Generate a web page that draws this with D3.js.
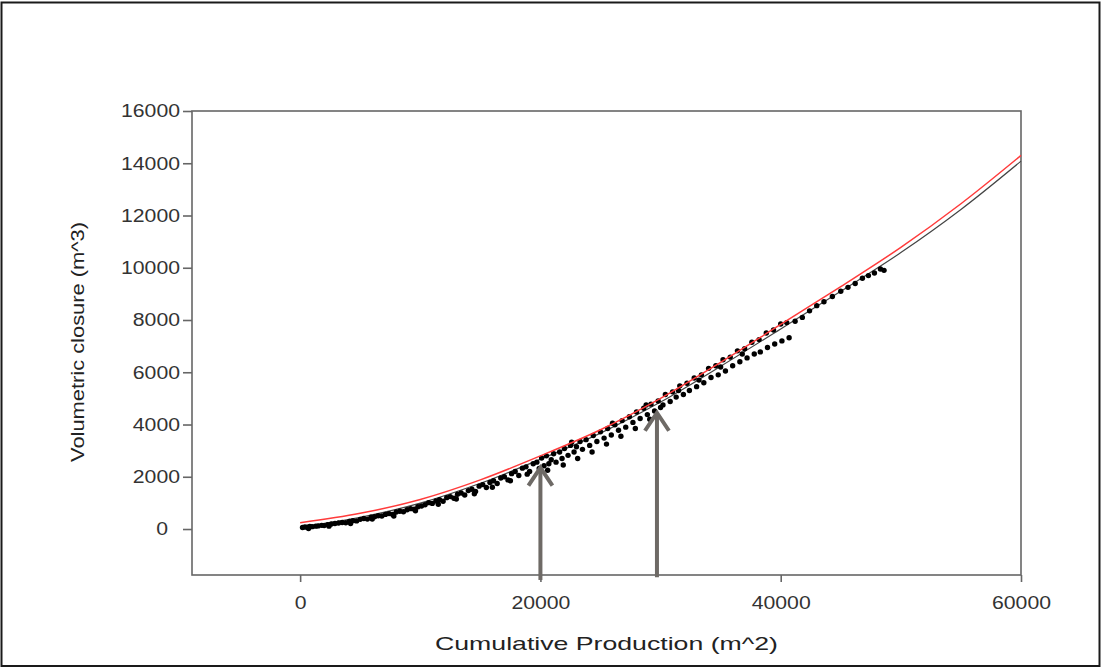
<!DOCTYPE html>
<html>
<head>
<meta charset="utf-8">
<script src="https://cdn.jsdelivr.net/npm/d3@7/dist/d3.min.js"></script>
<style>
  html, body { margin: 0; padding: 0; background: #fff; }
  svg { display: block; }
</style>
</head>
<body>
<svg id="chart" width="1102" height="668"></svg>
<script>
// ---------- data ----------
const xTicks = [0, 20000, 40000, 60000];
const yTicks = [0, 2000, 4000, 6000, 8000, 10000, 12000, 14000, 16000];

// fitted curve (red)
const redX = [0, 5000, 10000, 15000, 20000, 25000, 30000, 35000, 40000, 45000, 50000, 55000, 60000];
const redY = [240, 600, 1130, 1880, 2800, 3800, 5000, 6380, 7830, 9280, 10780, 12450, 14300];

// second fitted curve (dark grey)
const blackX = [0, 5000, 10000, 15000, 20000, 25000, 30000, 35000, 40000, 45000, 50000, 55000, 60000];
const blackY = [80, 450, 990, 1750, 2670, 3670, 4860, 6230, 7660, 9100, 10580, 12230, 14080];

// measured points
const points = [
  [200,60],[400,80],[600,70],[800,100],[1000,90],[1300,110],[1500,120],[1800,140],[2000,130],
  [2300,170],[2600,190],[2900,210],[3200,230],[3500,250],[3800,240],[4100,290],[4400,320],
  [4700,310],[5000,370],[5300,400],[5600,380],[5900,450],[6200,470],[6500,510],[6800,500],
  [7100,560],[7400,590],[7700,560],[8000,650],[8300,680],[8600,660],[8900,740],[9200,780],
  [9500,760],[9800,850],[10100,880],
  [700,20],[2400,110],[4200,210],[6000,380],[7800,500],[9600,700],
  [10400,930],[10700,1010],[11000,980],[11300,1070],[11600,1120],[11900,1060],[12200,1200],
  [12500,1240],[12800,1180],[13100,1330],[13400,1380],[13700,1300],[14000,1470],[14300,1520],
  [14600,1440],[14900,1640],[15200,1700],[15500,1590],[15800,1780],[16100,1850],[16400,1740],
  [16700,1950],[17000,2000],[17300,1880],[17600,2120],[17900,2200],[18200,2050],[18500,2330],
  [18800,2380],[19100,2200],[19400,2500],[19700,2560],[19900,2320],
  [11500,950],[13000,1150],[14500,1350],[16000,1600],[17500,1850],[18900,2100],
  [20100,2720],[20300,2420],[20500,2800],[20700,2500],[20900,2650],[21100,2880],[21300,2560],
  [21600,2950],[21800,2700],[22000,3080],[22300,2820],[22500,3200],[22800,2950],[23000,3150],
  [23300,3350],[23500,3050],[23800,3420],[24100,3200],[24400,3580],[24700,3350],[25000,3720],
  [25300,3480],[25600,3850],[25900,3600],[26200,3990],[26500,3780],[26800,4150],[27100,3900],
  [27400,4300],[27700,4080],[28000,4480],[28300,4230],[28600,4620],[28900,4380],[29200,4780],
  [29500,4520],[29800,4900],[30000,4650],
  [20600,2250],[21900,2450],[23100,2700],[24300,2950],[25500,3250],[26700,3550],[27900,3850],
  [29100,4200],[22600,3320],[26000,4050],[28800,4750],
  [30400,5150],[31000,5250],[31600,5480],[32200,5580],[32800,5780],[33400,5900],[34000,6150],
  [34600,6250],[35200,6480],[35800,6580],[36400,6820],[37000,6900],[37600,7150],[38200,7250],
  [38800,7500],[39400,7620],[40000,7850],[40500,7900],
  [30200,4750],[30800,4880],[31300,5050],[31900,5150],[32400,5300],[33000,5450],[33600,5600],
  [34200,5800],[34800,5900],[35400,6050],[36000,6250],[36600,6400],[37200,6550],[37800,6700],
  [38300,6780],[38900,6950],[39500,7080],[40100,7200],[40700,7320],
  [31500,5300],[33200,5700],[35000,6200],[36800,6700],
  [41200,7950],[41800,8100],[42400,8350],[43000,8550],[43600,8700],[44300,8900],[45000,9100],
  [45600,9250],[46200,9400],[46800,9600],[47300,9700],[47800,9800],[48300,9950],[48600,9900]
];

// arrows: x position, tip value, base value
const arrowX = [20000, 29700];
const arrowTip = [2350, 4450];
const arrowBase = [-1950, -1850];

const xTitle = "Cumulative Production (m^2)";
const yTitle = "Volumetric closure (m^3)";

// ---------- drawing ----------
const svg = d3.select("#chart");
const L = 192, R = 1021, T = 111, B = 575;

const x = d3.scaleLinear().domain([-9000, 60000]).range([L, R]);
const y = d3.scaleLinear().domain([-1760, 16000]).range([B, T]);

// outer frame
svg.append("rect")
  .attr("x", 1.5).attr("y", 2.5).attr("width", 1098).attr("height", 663.5)
  .attr("fill", "none").attr("stroke", "#1a1a1a").attr("stroke-width", 2);

// plot box
svg.append("rect")
  .attr("x", L).attr("y", T).attr("width", R - L).attr("height", B - T)
  .attr("fill", "none").attr("stroke", "#666").attr("stroke-width", 1.6);

// axes
const fontFam = "'Liberation Sans', Arial, sans-serif";
const gx = svg.append("g").attr("transform", `translate(0,${B})`)
  .call(d3.axisBottom(x).tickValues(xTicks).tickSize(7).tickPadding(14).tickFormat(d3.format("d")));
const gy = svg.append("g").attr("transform", `translate(${L},0)`)
  .call(d3.axisLeft(y).tickValues(yTicks).tickSize(9).tickPadding(3).tickFormat(d3.format("d")));

[gx, gy].forEach(g => {
  g.select(".domain").remove();
  g.selectAll(".tick line").attr("stroke", "#666").attr("stroke-width", 1.6);
  g.selectAll(".tick text")
    .attr("fill", "#333")
    .style("font-family", fontFam)
    .style("font-size", "18px")
    .attr("lengthAdjust", "spacingAndGlyphs")
    .attr("textLength", d => String(d).length * 11.8);
});
// the zero label on the y axis sits a little further left in the original
gy.selectAll(".tick text").filter(d => d === 0).attr("dx", -12);

// curves
const lineGen = d3.line().x(d => x(d[0])).y(d => y(d[1])).curve(d3.curveCatmullRom);
svg.append("path")
  .datum(blackX.map((v, i) => [v, blackY[i]]))
  .attr("d", lineGen).attr("fill", "none").attr("stroke", "#444").attr("stroke-width", 1.2);

// points
svg.append("g").selectAll("circle").data(points).join("circle")
  .attr("cx", d => x(d[0])).attr("cy", d => y(d[1])).attr("r", 2.7).attr("fill", "#000");

svg.append("path")
  .datum(redX.map((v, i) => [v, redY[i]]))
  .attr("d", lineGen).attr("fill", "none").attr("stroke", "#ff3b3b").attr("stroke-width", 1.5);

// arrows
const arrows = arrowX.map((v, i) => ({ x: v, tip: arrowTip[i], base: arrowBase[i] }));
const ag = svg.append("g").attr("stroke", "#6e6a66").attr("stroke-width", 4).attr("fill", "none");
arrows.forEach(a => {
  const ax = x(a.x), ty = y(a.tip), by = y(a.base);
  ag.append("line").attr("x1", ax).attr("x2", ax).attr("y1", by).attr("y2", ty + 1);
  ag.append("path")
    .attr("d", `M${ax - 12},${ty + 18} L${ax},${ty} L${ax + 12},${ty + 18}`)
    .attr("stroke-linejoin", "miter");
});

// axis titles
svg.append("text")
  .attr("x", 435).attr("y", 650)
  .attr("fill", "#222")
  .style("font-family", fontFam).style("font-size", "19px")
  .attr("lengthAdjust", "spacingAndGlyphs").attr("textLength", 343)
  .text(xTitle);

svg.append("text")
  .attr("transform", "translate(84,462) rotate(-90)")
  .attr("fill", "#222")
  .style("font-family", fontFam).style("font-size", "19px")
  .attr("lengthAdjust", "spacingAndGlyphs").attr("textLength", 240)
  .text(yTitle);
</script>
</body>
</html>
